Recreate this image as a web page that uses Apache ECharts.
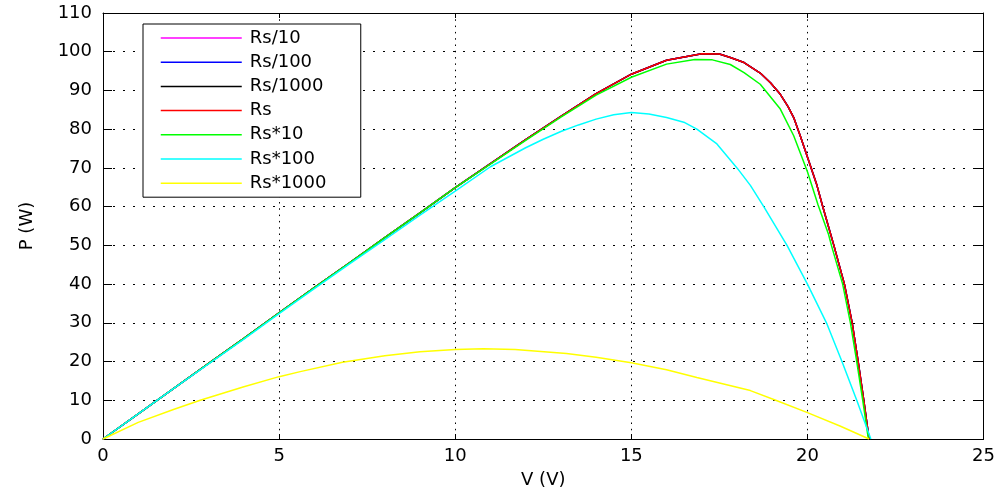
<!DOCTYPE html>
<html>
<head>
<meta charset="utf-8">
<script src="https://cdn.jsdelivr.net/npm/echarts@6/dist/echarts.min.js"></script>
<style>
html,body{margin:0;padding:0;background:#fff;}
#chart{width:998px;height:494px;}
</style>
</head>
<body>
<div id="chart"></div>
<script>
// ---- Data ----
var seriesNames = ['Rs/10', 'Rs/100', 'Rs/1000', 'Rs', 'Rs*10', 'Rs*100', 'Rs*1000'];
var seriesColors = ['#ff00ff', '#0000ff', '#000000', '#ff0000', '#00ff00', '#00ffff', '#ffff00'];

var xTicks = [0, 5, 10, 15, 20, 25];
var yTicks = [0, 10, 20, 30, 40, 50, 60, 70, 80, 90, 100, 110];

// Rs/10, Rs/100, Rs/1000 and Rs overlap (hidden under the red Rs curve)
var vRsDiv10 = [0, 1, 2, 3, 4, 5, 6, 7, 8, 9, 10, 11, 12, 13, 14, 15, 16, 17, 17.5, 17.81, 18.2, 18.66, 18.95, 19.23, 19.45, 19.61, 19.8, 20, 20.27, 20.42, 20.75, 21.05, 21.27, 21.44, 21.6, 21.75];
var pRsDiv10 = [0, 6.5, 13, 19.5, 26, 32.6, 39.1, 45.5, 52, 58.4, 64.9, 71.1, 77.3, 83.3, 89.2, 94.2, 97.8, 99.5, 99.4, 98.5, 97.2, 94.5, 92, 89, 85.8, 83, 78.2, 72.8, 65.5, 60.5, 50, 40, 30, 20, 10, 0];
var vRsDiv100 = [0, 1, 2, 3, 4, 5, 6, 7, 8, 9, 10, 11, 12, 13, 14, 15, 16, 17, 17.5, 17.81, 18.2, 18.66, 18.95, 19.23, 19.45, 19.61, 19.8, 20, 20.27, 20.42, 20.75, 21.05, 21.27, 21.44, 21.6, 21.75];
var pRsDiv100 = [0, 6.5, 13, 19.5, 26, 32.6, 39.1, 45.5, 52, 58.4, 64.9, 71.1, 77.3, 83.3, 89.2, 94.2, 97.8, 99.5, 99.4, 98.5, 97.2, 94.5, 92, 89, 85.8, 83, 78.2, 72.8, 65.5, 60.5, 50, 40, 30, 20, 10, 0];
var vRsDiv1000 = [0, 1, 2, 3, 4, 5, 6, 7, 8, 9, 10, 11, 12, 13, 14, 15, 16, 17, 17.5, 17.81, 18.2, 18.66, 18.95, 19.23, 19.45, 19.61, 19.8, 20, 20.27, 20.42, 20.75, 21.05, 21.27, 21.44, 21.6, 21.75];
var pRsDiv1000 = [0, 6.5, 13, 19.5, 26, 32.6, 39.1, 45.5, 52, 58.4, 64.9, 71.1, 77.3, 83.3, 89.2, 94.2, 97.8, 99.5, 99.4, 98.5, 97.2, 94.5, 92, 89, 85.8, 83, 78.2, 72.8, 65.5, 60.5, 50, 40, 30, 20, 10, 0];
var vRs = [0, 1, 2, 3, 4, 5, 6, 7, 8, 9, 10, 11, 12, 13, 14, 15, 16, 17, 17.5, 17.81, 18.2, 18.66, 18.95, 19.23, 19.45, 19.61, 19.8, 20, 20.27, 20.42, 20.75, 21.05, 21.27, 21.44, 21.6, 21.75];
var pRs = [0, 6.5, 13, 19.5, 26, 32.6, 39.1, 45.5, 52, 58.4, 64.9, 71.1, 77.3, 83.3, 89.2, 94.2, 97.8, 99.5, 99.4, 98.5, 97.2, 94.5, 92, 89, 85.8, 83, 78.2, 72.8, 65.5, 60.5, 50, 40, 30, 20, 10, 0];

var vRsMul10 = [0, 1, 2, 3, 4, 5, 6, 7, 8, 9, 10, 11, 12, 13, 14, 15, 16, 16.8, 17.3, 17.81, 18.2, 18.66, 19.23, 19.61, 20, 20.3, 20.6, 20.68, 21.0, 21.22, 21.4, 21.57, 21.73];
var pRsMul10 = [0, 6.5, 13, 19.5, 26, 32.6, 39.1, 45.5, 52, 58.4, 64.9, 71.0, 77.1, 83.1, 88.8, 93.4, 96.8, 98, 97.9, 96.7, 94.6, 91.6, 85.2, 78.3, 69, 60.5, 52.8, 50, 40, 30, 20, 10, 0];

var vRsMul100 = [0, 1, 2, 3, 4, 5, 6, 7, 8, 9, 10, 11, 12, 12.5, 13, 13.5, 14, 14.5, 15, 15.5, 16, 16.49, 16.86, 17.43, 18, 18.38, 18.76, 19.42, 20, 20.54, 20.98, 21.4, 21.8];
var pRsMul100 = [0, 6.5, 13, 19.4, 25.8, 32.4, 38.8, 45.2, 51.5, 57.8, 64, 70.3, 75.2, 77.4, 79.4, 81.1, 82.6, 83.7, 84.3, 83.9, 83.0, 81.8, 80, 76.2, 70, 65.5, 60, 50, 40, 30, 20, 10, 0];

var vRsMul1000 = [0, 1, 2, 2.76, 4, 5, 5.6, 6.8, 8, 9, 10, 10.8, 11.7, 13.16, 14, 15, 16, 16.86, 18.38, 19.1, 20, 20.94, 21.75];
var pRsMul1000 = [0, 4.3, 7.6, 10, 13.5, 16.1, 17.4, 19.8, 21.5, 22.5, 23.1, 23.3, 23.1, 22.1, 21.1, 19.7, 17.9, 15.9, 12.5, 10, 6.8, 3.3, 0];

var vArrays = [vRsDiv10, vRsDiv100, vRsDiv1000, vRs, vRsMul10, vRsMul100, vRsMul1000];
var pArrays = [pRsDiv10, pRsDiv100, pRsDiv1000, pRs, pRsMul10, pRsMul100, pRsMul1000];

function pairs(v, p) {
  var out = [];
  for (var i = 0; i < v.length; i++) out.push([v[i], p[i]]);
  return out;
}

var FONT = 'DejaVu Sans';
var chart = echarts.init(document.getElementById('chart'), null, {renderer: 'canvas'});

var series = seriesNames.map(function (name, i) {
  return {
    name: name,
    type: 'line',
    data: pairs(vArrays[i], pArrays[i]),
    symbol: 'none',
    smooth: false,
    xAxisIndex: 0,
    yAxisIndex: 0,
    lineStyle: {color: seriesColors[i], width: 1.5},
    itemStyle: {color: seriesColors[i]},
    z: 2 + i
  };
});

var xStep = xTicks[1] - xTicks[0];
var yStep = yTicks[1] - yTicks[0];

var option = {
  backgroundColor: '#ffffff',
  animation: false,
  grid: {left: 103, right: 13, top: 13, bottom: 51, containLabel: false},
  legend: {
    orient: 'vertical',
    left: 143,
    top: 24,
    padding: [4, 15, 4, 17],
    itemWidth: 81,
    itemHeight: 20,
    itemGap: 4.2,
    backgroundColor: '#ffffff',
    borderColor: '#000000',
    borderWidth: 1,
    data: seriesNames,
    itemStyle: {opacity: 0},
    lineStyle: {width: 1.5},
    textStyle: {
      fontFamily: FONT, fontSize: 18, color: '#000', width: 96,
      lineHeight: 20, padding: [0, 0, 0, 3]
    }
  },
  xAxis: [{
    type: 'value',
    min: xTicks[0], max: xTicks[xTicks.length - 1], interval: xStep,
    position: 'bottom',
    name: 'V (V)',
    nameLocation: 'middle',
    nameGap: 32,
    nameTextStyle: {fontFamily: FONT, fontSize: 18, color: '#000'},
    axisLine: {show: true, onZero: false, lineStyle: {color: '#000', width: 1}},
    axisTick: {show: true, inside: true, length: 5, lineStyle: {color: '#000'}},
    axisLabel: {fontFamily: FONT, fontSize: 18, color: '#000', margin: 8, showMaxLabel: true, showMinLabel: true},
    splitLine: {show: true, lineStyle: {color: '#000', width: 1, type: [1.5, 4.8]}}
  }, {
    type: 'value',
    min: xTicks[0], max: xTicks[xTicks.length - 1], interval: xStep,
    position: 'top',
    axisLine: {show: true, onZero: false, lineStyle: {color: '#000', width: 1}},
    axisTick: {show: true, inside: true, length: 5, lineStyle: {color: '#000'}},
    axisLabel: {show: false},
    splitLine: {show: false}
  }],
  yAxis: [{
    type: 'value',
    min: yTicks[0], max: yTicks[yTicks.length - 1], interval: yStep,
    position: 'left',
    name: 'P (W)',
    nameLocation: 'middle',
    nameGap: 67,
    nameRotate: 90,
    nameTextStyle: {fontFamily: FONT, fontSize: 18, color: '#000'},
    axisLine: {show: true, onZero: false, lineStyle: {color: '#000', width: 1}},
    axisTick: {show: true, inside: true, length: 9, lineStyle: {color: '#000'}},
    axisLabel: {fontFamily: FONT, fontSize: 18, color: '#000', margin: 11, showMaxLabel: true, showMinLabel: true},
    splitLine: {show: true, lineStyle: {color: '#000', width: 1, type: [2, 8]}}
  }, {
    type: 'value',
    min: yTicks[0], max: yTicks[yTicks.length - 1], interval: yStep,
    position: 'right',
    axisLine: {show: true, onZero: false, lineStyle: {color: '#000', width: 1}},
    axisTick: {show: true, inside: true, length: 9, lineStyle: {color: '#000'}},
    axisLabel: {show: false},
    splitLine: {show: false}
  }],
  series: series
};
chart.setOption(option);
</script>
</body>
</html>
